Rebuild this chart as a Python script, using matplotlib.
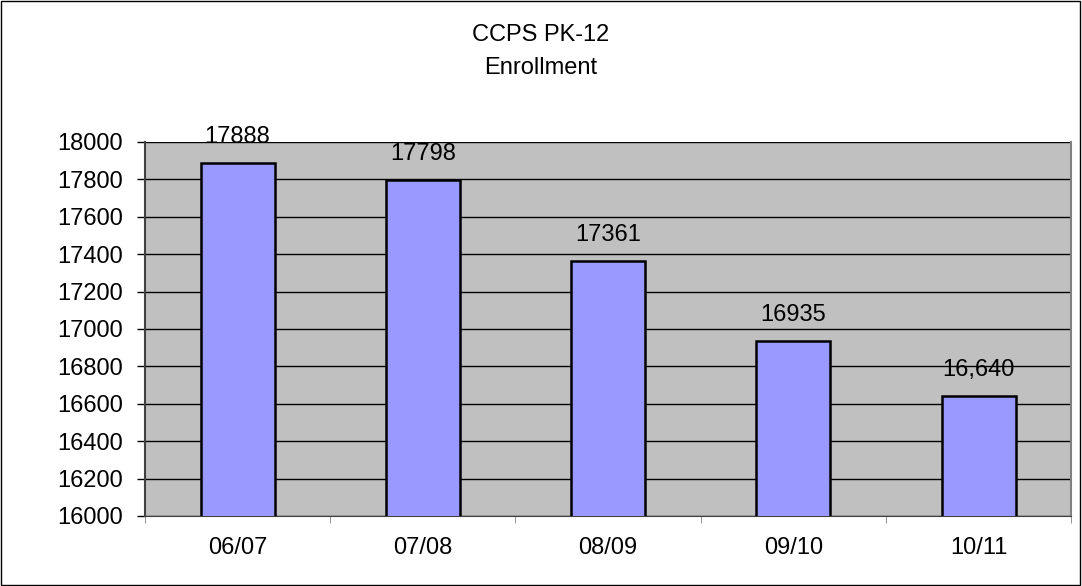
import numpy as np
import matplotlib.pyplot as plt
from matplotlib.patches import Rectangle

plt.rcParams['font.family'] = ['Liberation Sans', 'DejaVu Sans']

years = ["06/07", "07/08", "08/09", "09/10", "10/11"]
enrollment = [17888, 17798, 17361, 16935, 16640]
bar_labels = ["17888", "17798", "17361", "16935", "16,640"]

fs = 17

fig = plt.figure(figsize=(10.82, 5.86), dpi=100)
fig.patches.append(Rectangle((0.0005, 0.001), 0.998, 0.997, transform=fig.transFigure,
                             fill=False, edgecolor="black", linewidth=1))
ax = fig.add_axes([0.134, 0.1195, 0.856, 0.6383])
ax.set_facecolor("#C0C0C0")

x = np.arange(len(years))
ax.bar(x, enrollment, width=0.4, color="#9999FF", edgecolor="black", linewidth=1.8, zorder=3)
for xi, v, lab in zip(x, enrollment, bar_labels):
    ax.annotate(lab, (xi, v), xytext=(0, 14.5), textcoords="offset points",
                ha="center", va="baseline", fontsize=fs, zorder=4, annotation_clip=False)

ax.set_xlim(-0.5, len(years) - 0.5)
ax.set_ylim(16000, 18000)
ax.set_yticks(np.arange(16000, 18001, 200))
ax.tick_params(axis="y", labelsize=fs, length=6, direction="out", width=1, pad=10)
ax.yaxis.grid(True, color="black", linewidth=1, zorder=1)
ax.set_axisbelow(True)

ax.set_xticks(x)
ax.set_xticklabels(years, fontsize=fs)
ax.tick_params(axis="x", length=0, pad=15)
ax.set_xticks(np.arange(-0.5, len(years)), minor=True)
ax.tick_params(axis="x", which="minor", length=5, color="#808080")

ax.spines["top"].set_visible(False)
ax.spines["right"].set_color("#808080")
ax.spines["right"].set_linewidth(1.5)
ax.spines["left"].set_color("#404040")
ax.spines["left"].set_linewidth(1.5)
ax.spines["bottom"].set_color("#404040")

fig.text(0.5, 1 - 35 / 586, "CCPS PK-12", ha="center", va="center", fontsize=fs)
fig.text(0.5, 1 - 68 / 586, "Enrollment", ha="center", va="center", fontsize=fs)

fig.savefig("out.png", dpi=100)
